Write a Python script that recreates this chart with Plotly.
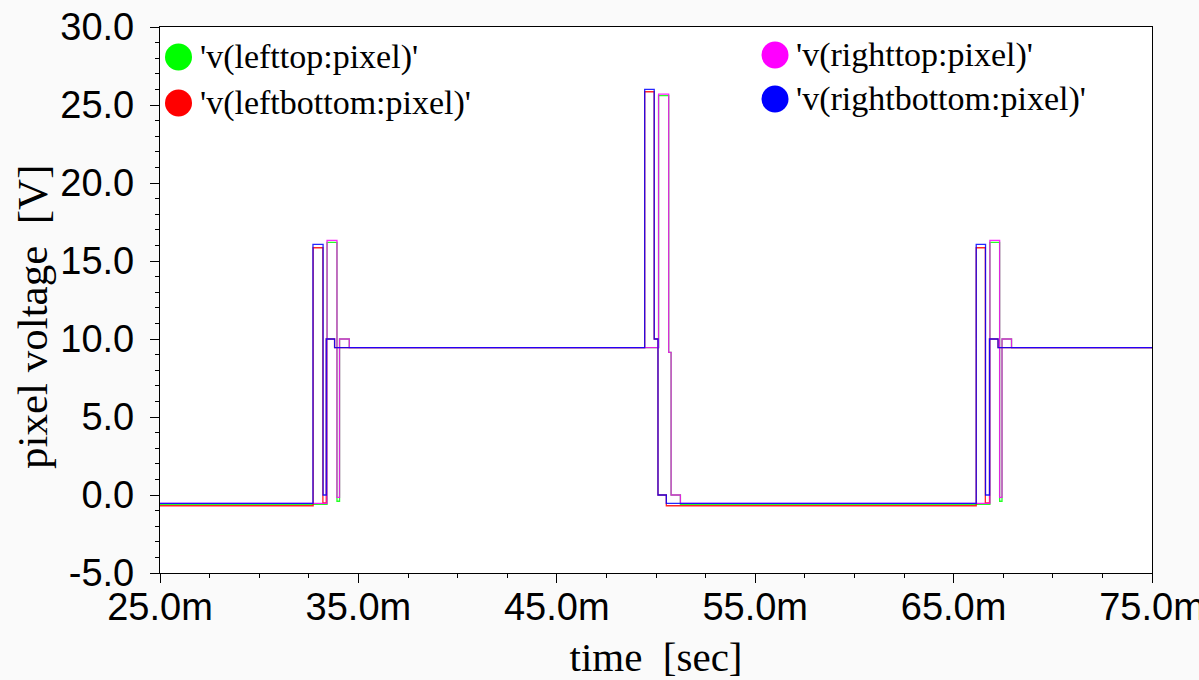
import plotly.graph_objects as go

# time in ms, voltage in V (step waveforms)
t_lefttop = [25, 33.42, 33.92, 34.05, 34.54, 50.13, 50.64, 50.76, 51.23, 66.83, 67.32, 67.44, 67.92, 75]
v_lefttop = [-0.60, 16.20, -0.40, 10.0, 9.45, 25.60, 9.14, 0.0, -0.60, 16.20, -0.40, 10.0, 9.45, 9.45]

t_leftbottom = [25, 32.72, 33.21, 33.38, 33.80, 49.43, 49.91, 50.10, 50.52, 66.14, 66.60, 66.81, 67.24, 75]
v_leftbottom = [-0.69, 15.85, -0.50, 10.0, 9.45, 25.85, 10.0, 0.0, -0.69, 15.85, -0.50, 10.0, 9.45, 9.45]

t_righttop = [25, 33.42, 33.92, 34.05, 34.54, 50.13, 50.64, 50.76, 51.23, 66.83, 67.32, 67.44, 67.92, 75]
v_righttop = [-0.54, 16.32, -0.15, 10.0, 9.45, 25.70, 9.14, 0.0, -0.54, 16.32, -0.15, 10.0, 9.45, 9.45]

t_rightbottom = [25, 32.71, 33.22, 33.38, 33.80, 49.43, 49.91, 50.10, 50.52, 66.14, 66.61, 66.81, 67.24, 75]
v_rightbottom = [-0.54, 16.06, 0.0, 10.0, 9.45, 26.0, 10.0, 0.0, -0.54, 16.06, 0.0, 10.0, 9.45, 9.45]

series = [
    ("'v(lefttop:pixel)'", t_lefttop, v_lefttop, "#00ff00"),
    ("'v(leftbottom:pixel)'", t_leftbottom, v_leftbottom, "#ff0000"),
    ("'v(righttop:pixel)'", t_righttop, v_righttop, "#ff00ff"),
    ("'v(rightbottom:pixel)'", t_rightbottom, v_rightbottom, "#0000ff"),
]

x_ticks = [25, 35, 45, 55, 65, 75]
x_ticktext = ["25.0m", "35.0m", "45.0m", "55.0m", "65.0m", "75.0m"]
y_ticks = [-5, 0, 5, 10, 15, 20, 25, 30]
y_ticktext = ["-5.0", "0.0", "5.0", "10.0", "15.0", "20.0", "25.0", "30.0"]

fig = go.Figure()
for name, t, v, c in series:
    fig.add_trace(go.Scatter(x=t, y=v, mode="lines", name=name,
                             line=dict(color=c, width=1.3, shape="hv"),
                             opacity=0.85, showlegend=False))

L, R, T, B = 160, 47, 27, 107
W, H = 1199, 680
pw, ph = W - L - R, H - T - B

# legend: circles + text
legend_items = [
    (series[0], 178.5, 57),
    (series[1], 178.5, 103),
    (series[2], 775, 55),
    (series[3], 775, 99),
]
for (name, _, _, c), px, py in legend_items:
    xa = (px - L) / pw
    ya = 1 - (py - T) / ph
    fig.add_shape(type="circle", xref="paper", yref="paper",
                  xsizemode="pixel", ysizemode="pixel",
                  xanchor=xa, yanchor=ya, x0=-13.5, x1=13.5, y0=-13.5, y1=13.5,
                  fillcolor=c, line=dict(width=0))
    fig.add_annotation(xref="paper", yref="paper", x=(px + 20 - L) / pw, y=ya,
                       xanchor="left", yanchor="middle", text=name, showarrow=False,
                       font=dict(family="Liberation Serif", size=34, color="black"),
                       bgcolor="white", borderpad=0)

# y-axis title
fig.add_annotation(xref="paper", yref="paper", x=(32 - L) / pw, y=1 - (317 - T) / ph,
                   xanchor="center", yanchor="middle", textangle=-90,
                   text="pixel voltage \u00a0[V]", showarrow=False,
                   font=dict(family="Liberation Serif", size=43, color="black"))

fig.update_layout(
    width=W, height=H,
    margin=dict(l=L, r=R, t=T, b=B),
    paper_bgcolor="#fafafa", plot_bgcolor="white",
    showlegend=False,
)
fig.update_xaxes(
    range=[25, 75], tickmode="array", tickvals=x_ticks, ticktext=x_ticktext,
    showgrid=False, zeroline=False, showline=True, linecolor="black", linewidth=1.3,
    mirror=True, ticks="outside", ticklen=9, tickcolor="black", tickwidth=1,
    minor=dict(dtick=2.5, ticks="outside", ticklen=4, tickcolor="black", showgrid=False),
    tickfont=dict(family="Liberation Sans", size=38, color="black"),
    ticklabelstandoff=-9, ticklabeloverflow="allow",
    title=dict(text="time \u00a0[sec]", standoff=23,
               font=dict(family="Liberation Serif", size=41, color="black")),
    automargin=False,
)
fig.update_yaxes(
    range=[-5, 30], tickmode="array", tickvals=y_ticks, ticktext=y_ticktext,
    showgrid=False, zeroline=False, showline=True, linecolor="black", linewidth=1.3,
    mirror=True, ticks="outside", ticklen=9, tickcolor="black", tickwidth=1,
    minor=dict(dtick=1, ticks="outside", ticklen=4, tickcolor="black", showgrid=False),
    tickfont=dict(family="Liberation Sans", size=38, color="black"),
    ticklabelstandoff=8,
    automargin=False,
)

fig.write_html("out.html")
